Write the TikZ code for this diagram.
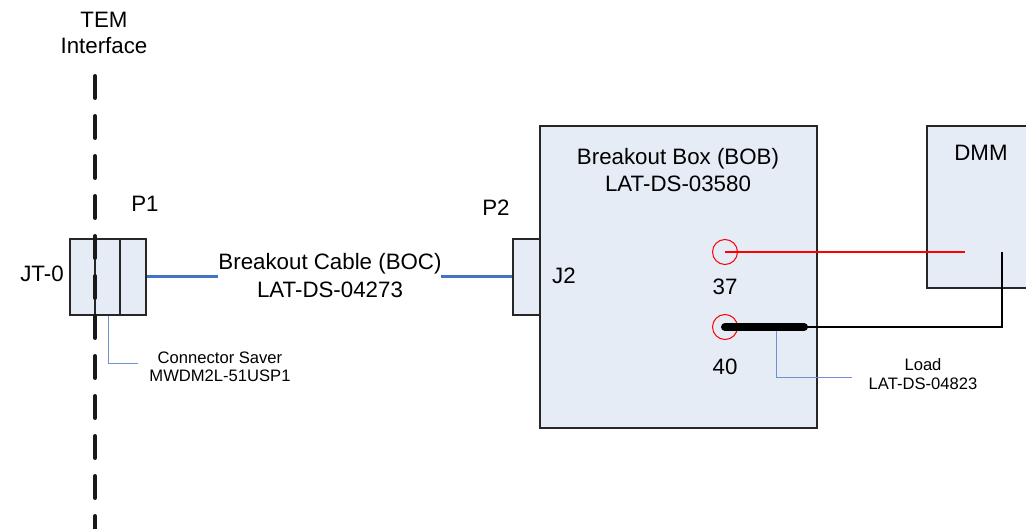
\documentclass[tikz,border=0pt]{standalone}
\usepackage{fontspec}
\setmainfont{Liberation Sans}
\definecolor{boxfill}{RGB}{229,236,246}
\definecolor{cableblue}{RGB}{68,114,196}
\definecolor{leaderblue}{RGB}{110,145,210}
\definecolor{wirered}{RGB}{255,0,0}
\newcommand\bigtxt{\fontsize{22.3}{27}\selectfont}
\newcommand\smalltxt{\fontsize{16.6}{19}\selectfont}
\newcommand\tlines[3]{\vtop{\baselineskip=#1pt\relax\halign{\hfil##\hfil\cr #2\cr #3\cr}}}
\tikzset{
  box/.style={draw=black!85, line width=1.2pt, fill=boxfill, inner sep=0pt},
  lbl/.style={anchor=base, inner sep=0pt, font=\bigtxt},
  slbl/.style={anchor=base, inner sep=0pt, font=\smalltxt},
  cable/.style={draw=cableblue, line width=3pt},
  leader/.style={draw=leaderblue, line width=1pt},
  pin/.style={circle, draw=wirered, line width=1pt, minimum size=25pt, inner sep=0pt},
  redwire/.style={draw=wirered, line width=1.3pt},
  iface/.style={draw=black!90, line width=4pt, line cap=round, dash pattern=on 22pt off 18pt}
}
\begin{document}
\begin{tikzpicture}[x=1pt,y=-1pt]
\useasboundingbox (0,0) rectangle (1026,529);
% connector saver / P1 boxes
\node[box, minimum width=25pt, minimum height=76pt] (csA) at (82.5,277) {};
\node[box, minimum width=25pt, minimum height=76pt] (csB) at (107.5,277) {};
\node[box, minimum width=26pt, minimum height=76pt] (p1box) at (133,277) {};
% TEM interface line
\coordinate (ifTop) at (95,76);
\coordinate (ifBot) at (95,540);
\draw[iface] (ifTop) -- (ifBot);
\node[lbl] (tem) at (104,28) {\tlines{26}{TEM}{Interface}};
\node[lbl] (jt0) at (42,282) {JT-0};
\node[lbl] (p1) at (145,212) {P1};
% connector saver leader
\coordinate (csLeadEnd) at (138,364);
\draw[leader] (csB.south) ++(0.5,0) |- (csLeadEnd);
\node[slbl] (cslbl) at (220,363) {\tlines{19}{Connector Saver}{MWDM2L-51USP1}};
% breakout box and J2
\node[box, minimum width=277pt, minimum height=302pt] (bob) at (678.5,277) {};
\node[box, minimum width=27pt, minimum height=76pt] (j2box) at (526.5,277) {};
\node[lbl] (boblbl) at (678,165) {\tlines{27}{Breakout Box (BOB)}{LAT-DS-03580}};
\node[lbl] (p2) at (496,216) {P2};
\node[lbl] (j2) at (564,284) {J2};
% cable
\node[lbl] (boc) at (330,270) {\tlines{28}{Breakout Cable (BOC)}{LAT-DS-04273}};
\draw[cable] (p1box.east) -- (218,277);
\draw[cable] (441,277) -- (j2box.west);
% DMM
\node[box, minimum width=110pt, minimum height=162pt] (dmm) at (982,207) {};
\node[lbl] (dmmlbl) at (981,161) {DMM};
% pins
\node[pin] (c37) at (725,252) {};
\node[pin] (c40) at (725,327) {};
\node[lbl] (n37) at (725,295) {37};
\node[lbl] (n40) at (725,374) {40};
\coordinate (dmmPos) at (965,252);
\coordinate (dmmNeg) at (1002,252);
\coordinate (barEnd) at (804,327);
\coordinate (loadTap) at (776,327);
\coordinate (loadLeadEnd) at (852,378);
\draw[redwire] (c37.center) -- (dmmPos);
\draw[black, line width=1.2pt] (barEnd) -| (dmmNeg);
\draw[leader] (loadTap) |- (loadLeadEnd);
\draw[black, line width=8pt, line cap=round] (c40.center) -- (barEnd);
\node[slbl] (loadlbl) at (923,371) {\tlines{19}{Load}{LAT-DS-04823}};
\end{tikzpicture}
\end{document}
